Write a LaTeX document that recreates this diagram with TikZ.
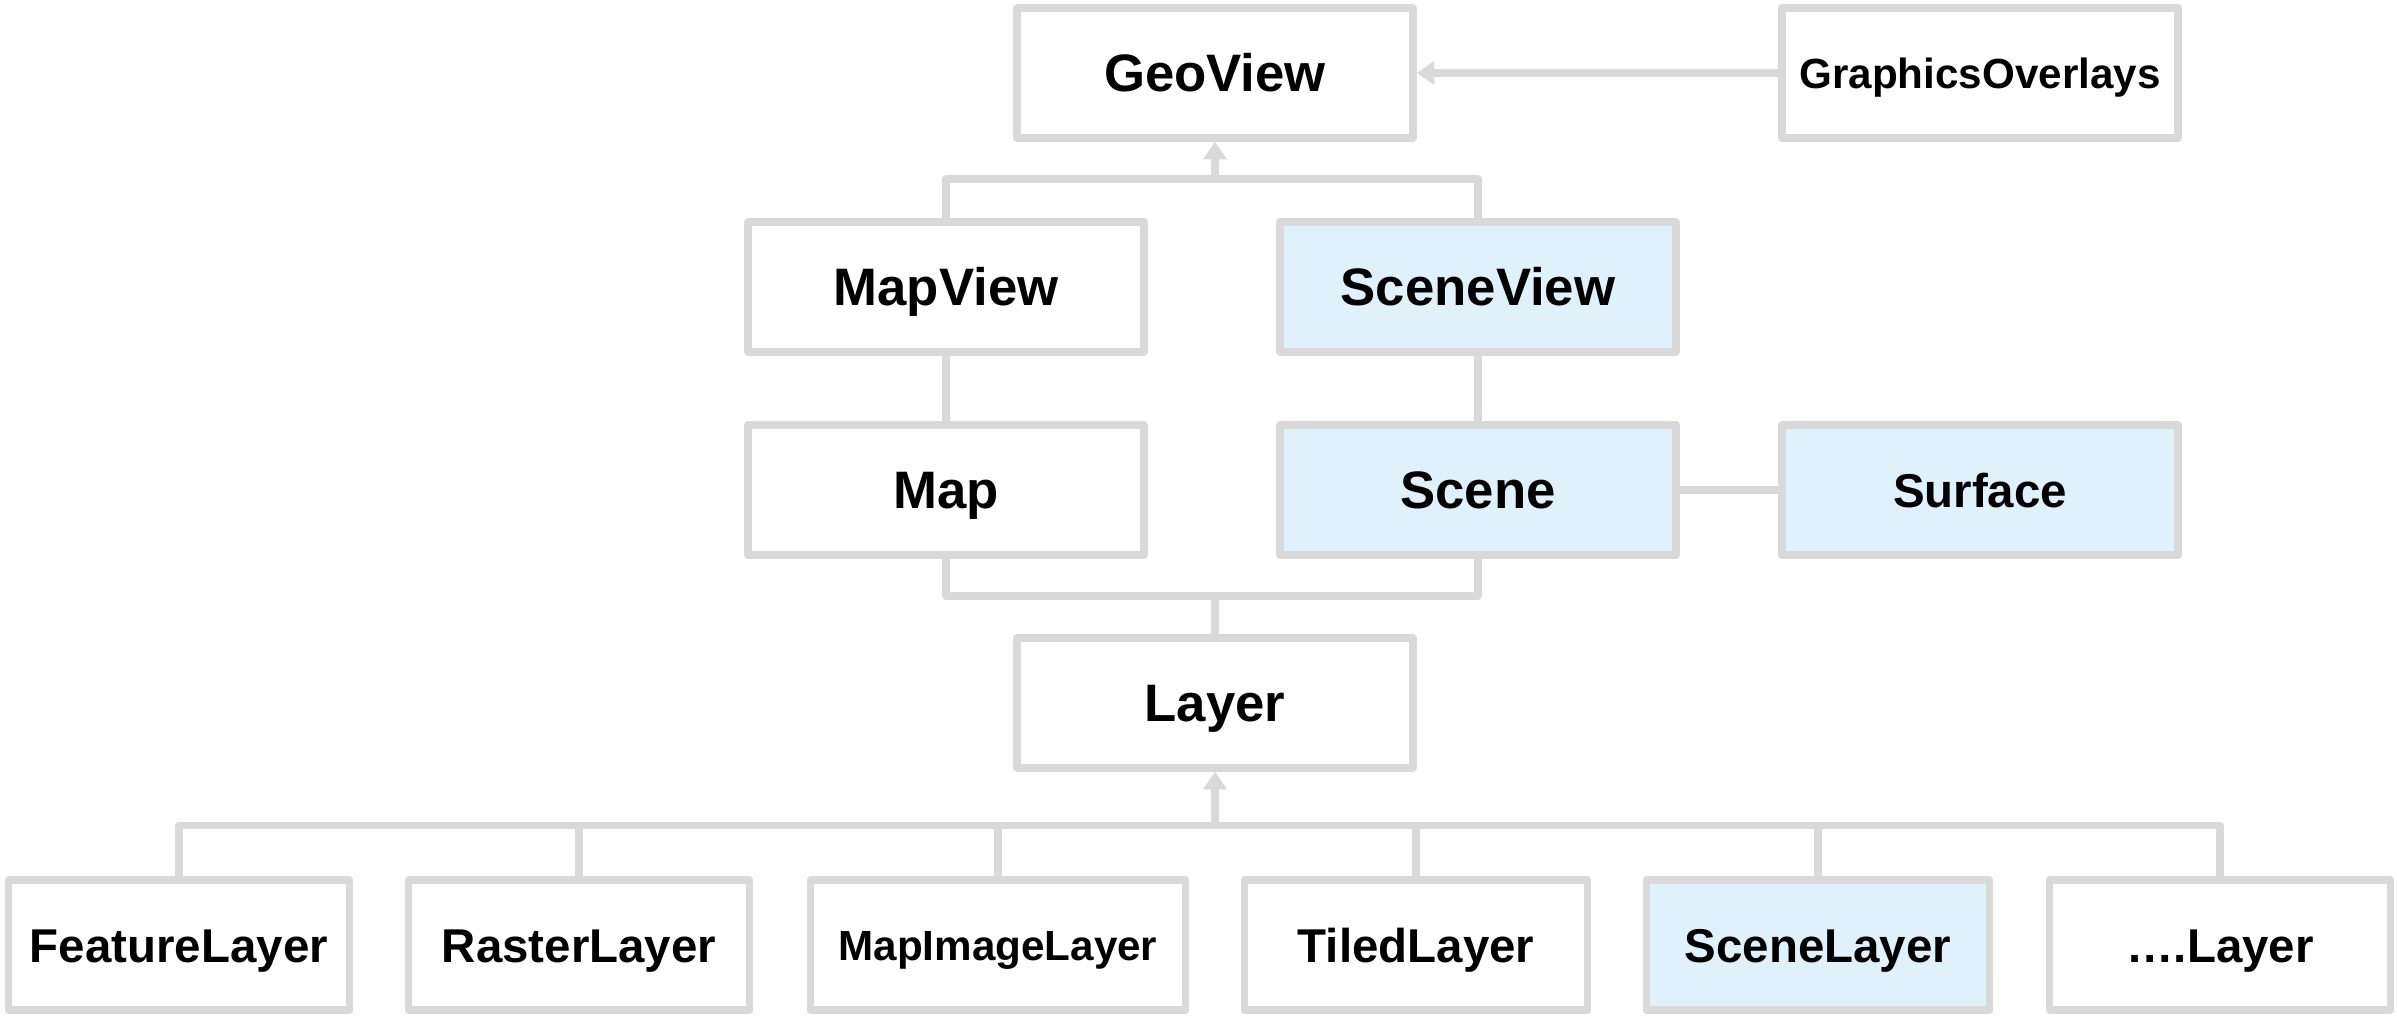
\documentclass[tikz,border=0pt]{standalone}
\usepackage{fontspec}
\setmainfont{Liberation Sans}
\usetikzlibrary{positioning}
\usetikzlibrary{arrows.meta}
\definecolor{lineGray}{HTML}{D9D9D9}
\definecolor{sceneBlue}{HTML}{DFF2FB}
\tikzset{
    box/.style={draw=lineGray, line width=2.1pt, line join=round, fill=white,
        minimum width=3.96cm, minimum height=1.30cm, inner sep=0pt,
        font=\fontsize{15}{18}\selectfont\bfseries, text height=10.7pt, text depth=0pt},
    sceneBox/.style={box, fill=sceneBlue},
    mid/.style={font=\fontsize{13.5}{16}\selectfont\bfseries, text height=9.7pt},
    small/.style={font=\fontsize{12}{14}\selectfont\bfseries, text height=8.6pt},
    link/.style={draw=lineGray, line width=2.1pt, line join=round},
    inherit/.style={link, -{Triangle[width=6.5pt,length=5pt]}}
}
\begin{document}
\begin{tikzpicture}
        \useasboundingbox (0,0) rectangle (23.97,10.18);
        \node[box] (geoview) at (12.15,9.45) {GeoView};
        \node[box, small] (overlays) at (19.80,9.45) {GraphicsOverlays};
        \node[box] (mapview) at (9.46,7.31) {MapView};
        \node[sceneBox] (sceneview) at (14.78,7.31) {SceneView};
        \node[box] (map) at (9.46,5.28) {Map};
        \node[sceneBox] (scene) at (14.78,5.28) {Scene};
        \node[sceneBox, mid] (surface) at (19.80,5.28) {Surface};
        \node[box] (layer) at (12.15,3.15) {Layer};
        \node[box, mid, minimum width=3.41cm] (feature) at (1.79,0.73) {FeatureLayer};
        \node[box, mid, minimum width=3.41cm] (raster) at (5.79,0.73) {RasterLayer};
        \node[box, small, minimum width=3.75cm] (mapimage) at (9.98,0.73) {MapImageLayer};
        \node[box, mid, minimum width=3.43cm] (tiled) at (14.16,0.73) {TiledLayer};
        \node[sceneBox, mid, minimum width=3.43cm] (scenelayer) at (18.18,0.73) {SceneLayer};
        \node[box, mid, minimum width=3.41cm] (otherlayer) at (22.20,0.73) {….Layer};
        \coordinate (viewbar) at (12.15,8.39);
        \coordinate (mapbar) at (12.15,4.22);
        \coordinate (layerbar) at (12.15,1.925);
        % views
        \draw[link] (mapview.north) |- (viewbar) -| (sceneview.north);
        \draw[inherit] (viewbar) -- (geoview.south);
        \draw[inherit] (overlays) -- (geoview);
        \draw[link] (mapview) -- (map);
        \draw[link] (sceneview) -- (scene);
        \draw[link] (scene) -- (surface);
        % maps and layers
        \draw[link] (map.south) |- (mapbar) -| (scene.south);
        \draw[link] (mapbar) -- (layer.north);
        \draw[link] (feature.north) |- (layerbar) -| (otherlayer.north);
        \foreach \n in {raster,mapimage,tiled,scenelayer}
            \draw[link] (layerbar -| \n.north) -- (\n.north);
        \draw[inherit] (layerbar) -- (layer.south);
\end{tikzpicture}
\end{document}
